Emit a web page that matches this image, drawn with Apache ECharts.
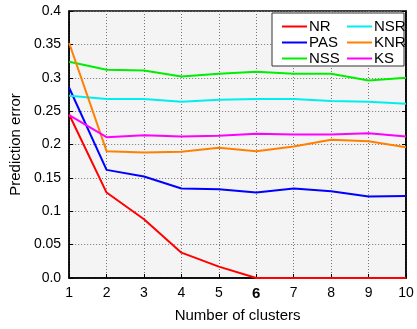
<!DOCTYPE html>
<html><head><meta charset="utf-8">
<script src="https://cdn.jsdelivr.net/npm/echarts@6/dist/echarts.min.js"></script>
<style>html,body{margin:0;padding:0;background:#fff}#c{width:417px;height:329px}</style>
</head><body><div id="c"></div>
<script>
const categories = [1,2,3,4,5,6,7,8,9,10];
const NR  = [0.245,0.128,0.088,0.038,0.017,0,0,0,0,0];
const PAS = [0.285,0.162,0.152,0.134,0.133,0.128,0.134,0.130,0.122,0.123];
const NSS = [0.324,0.312,0.311,0.302,0.306,0.309,0.306,0.306,0.296,0.300];
const NSR = [0.273,0.268,0.268,0.264,0.267,0.268,0.268,0.265,0.264,0.261];
const KNR = [0.352,0.190,0.188,0.189,0.195,0.190,0.197,0.207,0.205,0.196];
const KS  = [0.244,0.211,0.214,0.212,0.213,0.216,0.215,0.215,0.217,0.212];
const seriesNames = ['NR','PAS','NSS','NSR','KNR','KS'];
const seriesData = [NR,PAS,NSS,NSR,KNR,KS];
const colors = ['#ff0000','#0000ff','#00ee00','#00eeee','#ff8000','#ff00ff'];
const font = 'Liberation Sans, Arial, sans-serif';
const chart = echarts.init(document.getElementById('c'));
chart.setOption({
  animation:false,
  grid:{left:65,right:11,top:11,bottom:51,show:true,backgroundColor:'#f4f4f4',borderColor:'#000',borderWidth:1.5},
  legend:[
    {data:['NR','PAS','NSS'],orient:'vertical',left:277,top:14,itemWidth:25,itemHeight:2,itemGap:1,z:20,
     textStyle:{fontSize:15,fontFamily:font,color:'#000',padding:[0,0,0,-3]},icon:'rect'},
    {data:['NSR','KNR','KS'],orient:'vertical',left:342,top:14,itemWidth:25,itemHeight:2,itemGap:1,z:20,
     textStyle:{fontSize:15,fontFamily:font,color:'#000',padding:[0,0,0,-3]},icon:'rect'}
  ],
  graphic:[{type:'rect',shape:{x:272,y:13,width:132,height:53},style:{fill:'#fff',stroke:'#333',lineWidth:1},z:15}],
  xAxis:{type:'value',min:1,max:10,interval:1,
    name:'Number of clusters',nameLocation:'middle',nameGap:30,
    nameTextStyle:{fontSize:15,fontFamily:font,color:'#000'},
    axisLine:{lineStyle:{color:'#000',width:1.5}},
    axisTick:{inside:true,length:4,lineStyle:{color:'#000'}},
    axisLabel:{fontSize:14,fontFamily:font,color:'#000',margin:8,
      formatter:v=>v===6?'{b|6}':String(v),rich:{b:{fontWeight:'bold',fontSize:15,fontFamily:font,color:'#000'}}},
    splitLine:{show:true,lineStyle:{color:'#777',type:[1,2],width:1}}},
  yAxis:[{type:'value',min:0,max:0.4,interval:0.05,
    name:'Prediction error',nameLocation:'middle',nameGap:44,
    nameTextStyle:{fontSize:15,fontFamily:font,color:'#000'},
    axisLine:{show:true,lineStyle:{color:'#000',width:1.5}},
    axisTick:{show:true,inside:true,length:4,lineStyle:{color:'#000'}},
    axisLabel:{fontSize:14,fontFamily:font,color:'#000',margin:8,
      formatter:v=>v===0?'0.0':String(Math.round(v*100)/100)},
    splitLine:{show:true,lineStyle:{color:'#777',type:[1,2],width:1}}},
   {type:'value',min:0,max:0.4,interval:0.05,position:'right',
    axisLine:{show:true,lineStyle:{color:'#000',width:1.5}},
    axisTick:{show:true,inside:true,length:4,lineStyle:{color:'#000'}},
    axisLabel:{show:false},splitLine:{show:false}}],
  series:seriesNames.map((n,i)=>({name:n,type:'line',data:seriesData[i].map((v,j)=>[categories[j],v]),
    showSymbol:false,symbol:'none',lineStyle:{width:2,color:colors[i]},itemStyle:{color:colors[i]},z:3}))
});
</script></body></html>
